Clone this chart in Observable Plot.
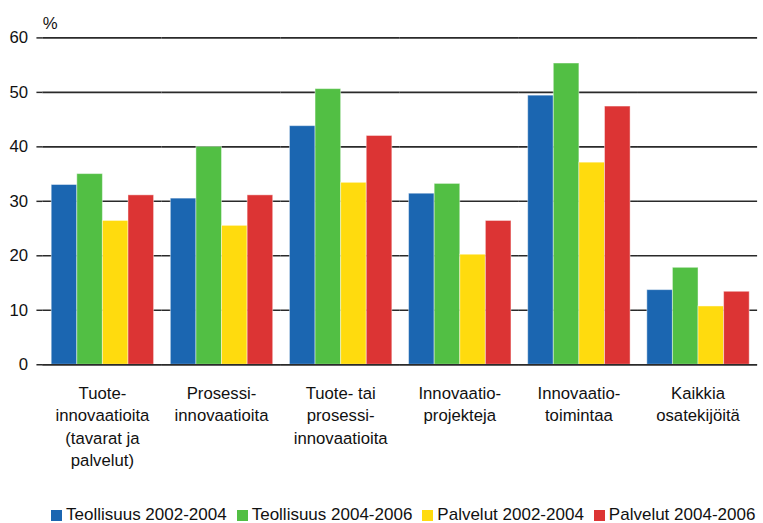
<!DOCTYPE html>
<html>
<head>
<meta charset="utf-8">
<script src="https://cdn.jsdelivr.net/npm/d3@7"></script>
<script src="https://cdn.jsdelivr.net/npm/@observablehq/plot@0.6"></script>
<style>
  html, body { margin: 0; padding: 0; background: #fff; }
  body { width: 763px; height: 523px; overflow: hidden; position: relative; font-family: "Liberation Sans", Arial, sans-serif; }
  #chart { position: absolute; left: 0; top: 0; }
  #legend { position: absolute; left: 51px; top: 505px; display: flex; font-size: 17px; line-height: 20px; color: #111; white-space: nowrap; }
  #legend .item { display: flex; align-items: center; margin-right: 10px; }
  #legend .sw { width: 11px; height: 11px; margin-right: 4px; display: inline-block; }
</style>
</head>
<body>
<div id="chart"></div>
<div id="legend"></div>
<script>
const categories = [
  "Tuote-\ninnovaatioita\n(tavarat ja\npalvelut)",
  "Prosessi-\ninnovaatioita",
  "Tuote- tai\nprosessi-\ninnovaatioita",
  "Innovaatio-\nprojekteja",
  "Innovaatio-\ntoimintaa",
  "Kaikkia\nosatekijöitä"
];
const seriesNames = ["Teollisuus 2002-2004", "Teollisuus 2004-2006", "Palvelut 2002-2004", "Palvelut 2004-2006"];
const teollisuus0204 = [33.0, 30.5, 43.8, 31.4, 49.4, 13.7];
const teollisuus0406 = [35.0, 40.0, 50.6, 33.2, 55.3, 17.8];
const palvelut0204   = [26.4, 25.5, 33.4, 20.2, 37.1, 10.7];
const palvelut0406   = [31.1, 31.1, 42.0, 26.4, 47.4, 13.4];
const colors = ["#1b66b1", "#52bf44", "#ffdb0e", "#dc3434"];
const yTicks = [0, 10, 20, 30, 40, 50, 60];
const unitLabel = "%";

const seriesValues = [teollisuus0204, teollisuus0406, palvelut0204, palvelut0406];
const data = [];
categories.forEach((c, i) => {
  seriesNames.forEach((s, j) => data.push({category: c, series: s, value: seriesValues[j][i]}));
});

const axisColor = "#2a2a2a";

// small tick at the left edge of every category group
const groupTicks = Plot.dot(categories, {
  fx: d => d,
  render(index, scales, values, dimensions) {
    const y0 = scales.y(0);
    const x0 = dimensions.marginLeft;
    const g = d3.create("svg:g");
    g.append("line").attr("x1", x0).attr("x2", x0).attr("y1", y0).attr("y2", y0 + 5)
      .attr("stroke", axisColor).attr("stroke-width", 1.5);
    return g.node();
  }
});
// vertical y-axis line in first group only
const yAxisLine = Plot.dot([categories[0]], {
  fx: d => d,
  render(index, scales, values, dimensions) {
    const x0 = dimensions.marginLeft;
    const g = d3.create("svg:g");
    g.append("line").attr("x1", x0).attr("x2", x0).attr("y1", scales.y(60)).attr("y2", scales.y(0) + 5)
      .attr("stroke", axisColor).attr("stroke-width", 1.5);
    return g.node();
  }
});

const chart = Plot.plot({
  width: 775,
  height: 490,
  marginTop: 38,
  marginBottom: 120,
  marginLeft: 43,
  marginRight: 6,
  style: {fontFamily: "'Liberation Sans', Arial, sans-serif", fontSize: "17px", color: "#111", background: "#fff"},
  fx: {domain: categories, padding: 0, axis: null},
  x: {domain: seriesNames, paddingInner: 0, paddingOuter: 0.29, axis: null},
  y: {domain: [0, 60], axis: null},
  color: {domain: seriesNames, range: colors},
  marks: [
    Plot.gridY(yTicks, {stroke: axisColor, strokeOpacity: 1, strokeWidth: 1.6}),
    Plot.barY(data, {fx: "category", x: "series", y: "value", fill: "series", stroke: "#fff", strokeOpacity: 0.45, strokeWidth: 1}),
    Plot.ruleY([0], {stroke: axisColor, strokeWidth: 1.6}),
    Plot.axisY(yTicks, {anchor: "left", tickSize: 6, tickPadding: 9, stroke: axisColor, strokeWidth: 1.5, fontSize: 17, label: null}),
    Plot.axisFx({anchor: "bottom", tickSize: 0, tickPadding: 18, fontSize: 17, lineHeight: 1.35, textAnchor: "middle", lineAnchor: "top", label: null}),
    groupTicks,
    yAxisLine,
    Plot.text([categories[0]], {fx: d => d, text: () => unitLabel, frameAnchor: "top-left", dy: -21, textAnchor: "start", fontSize: 17})
  ]
});
document.getElementById("chart").appendChild(chart);

const legend = document.getElementById("legend");
seriesNames.forEach((s, i) => {
  const item = document.createElement("div");
  item.className = "item";
  const sw = document.createElement("span");
  sw.className = "sw";
  sw.style.background = colors[i];
  item.appendChild(sw);
  item.appendChild(document.createTextNode(s));
  legend.appendChild(item);
});
</script>
</body>
</html>
